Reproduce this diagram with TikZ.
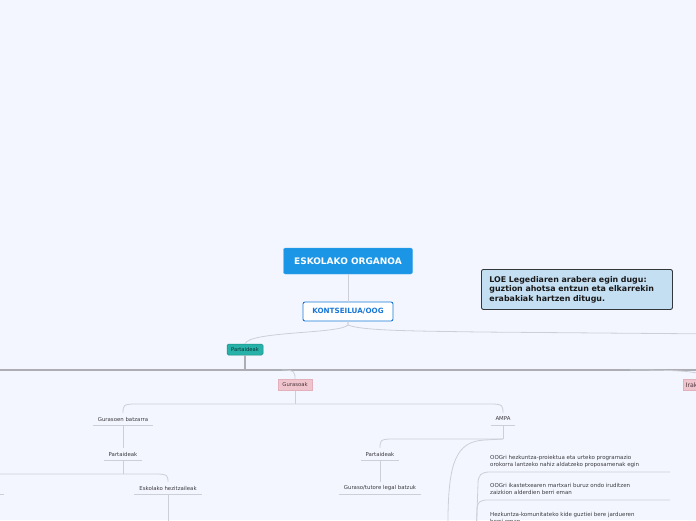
\documentclass[tikz,border=0pt]{standalone}
\usepackage{fontspec}
\setmainfont{DejaVu Sans}
\definecolor{bgblue}{RGB}{243,246,254}
\definecolor{rootblue}{RGB}{27,150,230}
\definecolor{konsblue}{RGB}{25,120,215}
\definecolor{tealfill}{RGB}{38,178,168}
\definecolor{tealdraw}{RGB}{24,140,130}
\definecolor{tealtext}{RGB}{10,50,50}
\definecolor{pinkfill}{RGB}{240,196,204}
\definecolor{pinkdraw}{RGB}{226,176,186}
\definecolor{pinktext}{RGB}{75,55,60}
\definecolor{notefill}{RGB}{197,223,242}
\definecolor{notedraw}{RGB}{50,55,60}
\definecolor{linegray}{RGB}{204,207,215}
\definecolor{busgray}{RGB}{172,174,180}
\definecolor{textgray}{RGB}{60,60,65}
\begin{document}
\begin{tikzpicture}[x=1pt,y=-1pt,
  conn/.style={draw=linegray, line width=0.8pt},
  bus/.style={draw=busgray, line width=1.3pt},
  uline/.style={draw=linegray, line width=0.8pt},
  rootbox/.style={fill=rootblue, draw=rootblue!80!white, rounded corners=2pt, text=white,
    font=\fontsize{9}{10}\selectfont\bfseries, minimum width=129pt, minimum height=26pt, inner sep=0pt},
  konsbox/.style={fill=white, draw=konsblue, line width=0.9pt, rounded corners=2pt, text=konsblue,
    font=\fontsize{7.2}{8}\selectfont\bfseries, minimum width=90pt, minimum height=19pt, inner sep=0pt},
  tealbox/.style={fill=tealfill, draw=tealdraw, line width=0.5pt, rounded corners=1.5pt, text=tealtext,
    font=\fontsize{5.2}{6}\selectfont, minimum width=36pt, minimum height=11pt, inner sep=0pt},
  pinkbox/.style={fill=pinkfill, draw=pinkdraw, line width=0.5pt, text=pinktext,
    font=\fontsize{5.3}{6}\selectfont, minimum height=11pt, inner sep=0pt},
  notebox/.style={fill=notefill, draw=notedraw, line width=0.9pt, rounded corners=2pt, text=black!90,
    font=\fontsize{7.9}{9.5}\selectfont\bfseries, align=left, text width=175pt, inner xsep=8pt,
    minimum height=40pt},
  topic/.style={font=\fontsize{5.4}{6.5}\selectfont, text=textgray, inner sep=0pt, minimum height=12pt},
  longtext/.style={font=\fontsize{5.5}{7}\selectfont, text=textgray, inner sep=0pt, align=left, anchor=north west}
]
\useasboundingbox (0,0) rectangle (696,520);
\fill[bgblue] (0,0) rectangle (696,520);
\begin{scope}
\clip (0,0) rectangle (696,520);

% nodes
\node[rootbox] (root) at (348,261) {ESKOLAKO ORGANOA};
\node[konsbox] (kons) at (348,311.5) {KONTSEILUA/OOG};
\node[tealbox] (part1) at (245,349.5) {Partaideak};
\node[pinkbox, minimum width=34pt] (guras) at (295,385) {Gurasoak};
\node[pinkbox, font=\fontsize{6.2}{7}\selectfont, minimum width=44pt, anchor=west, text width=40pt, inner xsep=2.5pt, align=left] (ira) at (683,385) {Irakasleak};
\node[notebox, anchor=north west] (note) at (481,269) {LOE Legediaren arabera egin dugu:\\guztion ahotsa entzun eta elkarrekin\\erabakiak hartzen ditugu.};

\node[topic, minimum width=60pt] (gbatz) at (123,419) {Gurasoen batzarra};
\node[topic, minimum width=37pt] (part2) at (123,454) {Partaideak};
\node[topic, minimum width=67pt] (eskhez) at (168,488) {Eskolako hezitzaileak};
\node[topic, minimum width=24pt] (ampa) at (503,419) {AMPA};
\node[topic, minimum width=38pt] (part3) at (380,454) {Partaideak};
\node[topic, minimum width=82pt] (gurtut) at (380,488) {Guraso/tutore legal batzuk};

\node[longtext] (t1) at (490,455.6) {OOGri hezkuntza-proiektua eta urteko programazio\\orokorra lantzeko nahiz aldatzeko proposamenak egin};
\node[longtext] (t2) at (490,483.6) {OOGri ikastetxearen martxari buruz ondo iruditzen\\zaizkion alderdien berri eman};
\node[longtext] (t3) at (490,512.6) {Hezkuntza-komunitateko kide guztiei bere jardueren\\berri eman};

% free ends
\coordinate (offR) at (720,334);
\coordinate (busL) at (-10,370);
\coordinate (busR) at (720,370);
\coordinate (jp1) at (245,370);
\coordinate (jg) at (295,404);
\coordinate (jp2) at (123,474);
\coordinate (ja) at (503,439);
\coordinate (offL1) at (-10,474);
\coordinate (lu1) at (-10,494);
\coordinate (lu2) at (4,494);
\coordinate (offB1) at (168,540);
\coordinate (offB2) at (448,540);
\coordinate (offB3) at (476,540);
\coordinate (u1) at (670,472);
\coordinate (u2) at (670,500);

% connectors
\draw[conn] (root.south) -- (kons.north);
\draw[conn] (kons.south) -- (348,325) .. controls (340,334) and (250,331) .. (part1.north);
\draw[conn] (kons.south) -- (348,325) .. controls (362,331) and (420,331) .. (480,332) -- (offR);
\draw[bus] (part1.south) -- (jp1);
\draw[bus] (busL) -- (busR);
\draw[conn] (282,370) .. controls (295,370) and (295,372) .. (guras.north);
\draw[conn] (630,370) .. controls (690,370) and (705,372) .. (ira.north);

\draw[conn] (guras.south) -- (jg);
\draw[conn] (135,404) .. controls (123,404) and (123,406) .. (gbatz.north) ;
\draw[conn] (135,404) -- (491,404) .. controls (503,404) and (503,406) .. (ampa.north);
\draw[uline] (gbatz.south west) -- (gbatz.south east);
\draw[conn] (gbatz.south) -- (part2.north);
\draw[uline] (part2.south west) -- (part2.south east);
\draw[conn] (part2.south) -- (jp2);
\draw[conn] (offL1) -- (156,474) .. controls (168,474) and (168,476) .. (eskhez.north);
\draw[uline] (eskhez.south west) -- (eskhez.south east);
\draw[conn] (eskhez.south) -- (offB1);
\draw[uline] (lu1) -- (lu2);

\draw[uline] (ampa.south west) -- (ampa.south east);
\draw[conn] (ampa.south) -- (ja);
\draw[conn] (ja) -- (392,439) .. controls (380,439) and (380,441) .. (part3.north);
\draw[conn] (ja) -- (485,440) .. controls (455,441) and (449,465) .. (448,515) -- (offB2);
\draw[uline] (part3.south west) -- (part3.south east);
\draw[conn] (part3.south) -- (gurtut.north);
\draw[uline] (gurtut.south west) -- (gurtut.south east);

\draw[conn] (offB3) -- (478,484) .. controls (478,475) and (481,472) .. (490,472) -- (u1);
\draw[conn] (offB3) -- (477,510) .. controls (477,502) and (480,500) .. (488,500) -- (u2);
\end{scope}
\end{tikzpicture}
\end{document}
